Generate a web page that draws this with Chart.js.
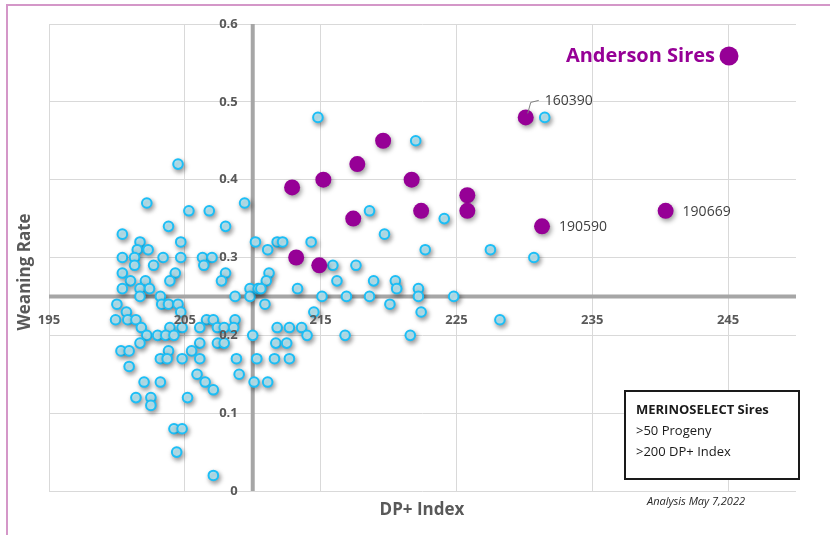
<!DOCTYPE html>
<html>
<head>
<meta charset="utf-8">
<script src="https://cdn.jsdelivr.net/npm/chart.js@4.4.0/dist/chart.umd.min.js"></script>
<style>
  body { margin: 0; background: #fff; }
  #wrap { width: 830px; height: 535px; position: relative; }
</style>
</head>
<body>
<div id="wrap"><canvas id="myChart"></canvas></div>
<script>
// MERINOSELECT sires (x = DP+ index, y = weaning rate)
const sireX = [204.5,202.2,209.4,205.3,206.8,203.8,208.0,200.4,201.7,204.7,210.2,201.5,202.3,200.4,201.3,203.4,204.7,206.3,207.0,206.4,
  201.3,202.7,200.4,204.3,208.0,201.0,202.1,203.9,207.7,200.4,201.7,202.4,201.7,203.2,208.7,209.8,209.8,210.4,200.0,203.3,
  203.8,204.5,200.7,204.7,199.9,200.8,201.4,201.8,206.6,207.1,208.7,203.9,207.4,207.9,208.6,204.8,206.1,202.2,203.0,203.6,
  204.2,210.0,201.7,206.1,207.4,207.9,200.3,200.9,203.8,205.5,203.2,203.7,204.8,206.1,208.8,210.3,200.9,205.9,209.0,202.0,
  203.2,206.5,210.1,207.1,201.4,202.5,205.2,202.5,204.2,204.8,204.4,207.1,214.8,222.0,218.6,224.1,219.7,211.8,212.2,211.1,
  214.3,222.7,227.5,215.9,217.6,211.2,211.0,216.2,218.9,220.5,210.6,213.3,220.6,222.2,215.1,216.9,218.6,222.2,224.8,210.9,
  214.5,220.1,222.4,228.2,211.8,212.7,213.6,214.0,216.8,221.6,231.5,230.7,211.7,212.5,211.6,212.7,211.1];
const sireY = [0.42,0.37,0.37,0.36,0.36,0.34,0.34,0.33,0.32,0.32,0.32,0.31,0.31,0.30,0.30,0.30,0.30,0.30,0.30,0.29,
  0.29,0.29,0.28,0.28,0.28,0.27,0.27,0.27,0.27,0.26,0.26,0.26,0.25,0.25,0.25,0.26,0.25,0.26,0.24,0.24,
  0.24,0.24,0.23,0.23,0.22,0.22,0.22,0.21,0.22,0.22,0.22,0.21,0.21,0.21,0.21,0.21,0.21,0.20,0.20,0.20,
  0.20,0.20,0.19,0.19,0.19,0.19,0.18,0.18,0.18,0.18,0.17,0.17,0.17,0.17,0.17,0.17,0.16,0.15,0.15,0.14,
  0.14,0.14,0.14,0.13,0.12,0.12,0.12,0.11,0.08,0.08,0.05,0.02,0.48,0.45,0.36,0.35,0.33,0.32,0.32,0.31,
  0.32,0.31,0.31,0.29,0.29,0.28,0.27,0.27,0.27,0.27,0.26,0.26,0.26,0.26,0.25,0.25,0.25,0.25,0.25,0.24,
  0.23,0.24,0.23,0.22,0.21,0.21,0.21,0.20,0.20,0.20,0.48,0.30,0.19,0.19,0.17,0.17,0.14];

// Anderson sires
const andX = [212.9,215.2,217.7,219.6,221.7,225.8,225.8,222.4,217.4,213.2,214.9,230.1,231.3,240.4];
const andY = [0.39,0.40,0.42,0.45,0.40,0.38,0.36,0.36,0.35,0.30,0.29,0.48,0.34,0.36];
const andLabels = ['','','','','','','','','','','','160390','190590','190669'];

const xTicks = [195,205,215,225,235,245];
const yTicks = [0,0.1,0.2,0.3,0.4,0.5,0.6];
const xCross = 210;
const yCross = 0.25;

const purple = '#960096';
const grey = '#595959';
const font = '"Open Sans", "Noto Sans", sans-serif';

const toPoints = (xs, ys) => xs.map((x, i) => ({x: x, y: ys[i]}));

const deco = {
  id: 'deco',
  beforeDatasetsDraw(chart) {
    const {ctx, chartArea: a, scales: {x, y}} = chart;
    ctx.save();
    ctx.strokeStyle = '#a6a6a6';
    ctx.lineWidth = 4;
    const cx = x.getPixelForValue(xCross), cy = y.getPixelForValue(yCross);
    ctx.beginPath();
    ctx.moveTo(cx, a.top); ctx.lineTo(cx, a.bottom);
    ctx.moveTo(a.left, cy); ctx.lineTo(a.right, cy);
    ctx.stroke();
    ctx.restore();
    // soft shadow under the markers
    ctx.save();
    ctx.shadowColor = 'rgba(0,0,0,0.4)';
    ctx.shadowBlur = 5;
    ctx.shadowOffsetX = 1.5;
    ctx.shadowOffsetY = 2.5;
  },
  afterDatasetsDraw(chart) {
    chart.ctx.restore();
  },
  afterDraw(chart) {
    const {ctx, scales: {x, y}} = chart;
    const cx = x.getPixelForValue(xCross), cy = y.getPixelForValue(yCross);
    ctx.save();
    // frame
    ctx.strokeStyle = '#d497c8';
    ctx.lineWidth = 2;
    ctx.beginPath();
    ctx.moveTo(7, 535); ctx.lineTo(7, 5); ctx.lineTo(830, 5);
    ctx.stroke();

    // tick labels
    ctx.fillStyle = grey;
    ctx.font = 'bold 13px ' + font;
    ctx.textAlign = 'center';
    ctx.textBaseline = 'middle';
    xTicks.forEach(v => ctx.fillText(String(v), x.getPixelForValue(v), cy + 24));
    ctx.textAlign = 'right';
    yTicks.forEach(v => ctx.fillText(String(v), cx - 15, y.getPixelForValue(v)));

    // axis titles
    ctx.font = 'bold 17px ' + font;
    ctx.textAlign = 'center';
    ctx.fillText('DP+ Index', 422, 510);
    ctx.save();
    ctx.translate(25, 272);
    ctx.rotate(-Math.PI / 2);
    ctx.fillText('Weaning Rate', 0, 0);
    ctx.restore();

    // data labels
    const meta = chart.getDatasetMeta(0);
    ctx.font = '14px ' + font;
    ctx.fillStyle = '#404040';
    ctx.textAlign = 'left';
    andLabels.forEach((t, i) => {
      if (!t) return;
      const p = meta.data[i];
      if (t === '160390') {
        ctx.strokeStyle = '#7f7f7f';
        ctx.lineWidth = 1;
        ctx.beginPath();
        ctx.moveTo(p.x + 2, p.y - 4);
        ctx.lineTo(p.x + 5, p.y - 15);
        ctx.lineTo(p.x + 13, p.y - 17);
        ctx.stroke();
        ctx.fillText(t, p.x + 19, p.y - 16);
      } else {
        ctx.fillText(t, p.x + 17, p.y + 1);
      }
    });

    // legend
    ctx.font = 'bold 20px ' + font;
    ctx.fillStyle = purple;
    ctx.textAlign = 'right';
    ctx.fillText('Anderson Sires', 715, 56);
    ctx.beginPath();
    ctx.arc(729, 56, 9.5, 0, Math.PI * 2);
    ctx.fill();

    // note box
    ctx.fillStyle = '#fff';
    ctx.fillRect(625, 391, 174, 88);
    ctx.strokeStyle = '#1a1a1a';
    ctx.lineWidth = 2;
    ctx.strokeRect(625, 391, 174, 88);
    ctx.fillStyle = '#1a1a1a';
    ctx.textAlign = 'left';
    ctx.font = 'bold 13px ' + font;
    ctx.fillText('MERINOSELECT Sires', 636, 410);
    ctx.font = '13px ' + font;
    ctx.fillText('>50 Progeny', 636, 431);
    ctx.fillText('>200 DP+ Index', 636, 452);

    ctx.font = 'italic 11px ' + font;
    ctx.fillStyle = '#262626';
    ctx.textAlign = 'center';
    ctx.fillText('Analysis May 7,2022', 696, 502);
    ctx.restore();
  }
};

const ctx = document.getElementById('myChart').getContext('2d');
const myChart = new Chart(ctx, {
  type: 'scatter',
  data: {
    datasets: [{
      label: 'Anderson Sires',
      data: toPoints(andX, andY),
      backgroundColor: purple,
      borderColor: purple,
      pointRadius: 8,
      borderWidth: 0
    }, {
      label: 'MERINOSELECT Sires',
      data: toPoints(sireX, sireY),
      backgroundColor: '#c4f3ff',
      borderColor: '#1cbef6',
      pointRadius: 4.8,
      borderWidth: 2
    }]
  },
  options: {
    responsive: true,
    maintainAspectRatio: false,
    animation: false,
    layout: { padding: { left: 49, right: 34, top: 24, bottom: 44 } },
    plugins: { legend: { display: false }, tooltip: { enabled: false } },
    scales: {
      x: {
        type: 'linear',
        min: 195,
        max: 250,
        afterBuildTicks: s => { s.ticks = xTicks.map(v => ({value: v})); },
        ticks: { display: false },
        grid: { color: '#d9d9d9', drawTicks: false },
        border: { display: false }
      },
      y: {
        min: 0,
        max: 0.6,
        afterBuildTicks: s => { s.ticks = yTicks.map(v => ({value: v})); },
        ticks: { display: false },
        grid: { color: '#d9d9d9', drawTicks: false },
        border: { display: false }
      }
    }
  },
  plugins: [deco]
});
</script>
</body>
</html>
